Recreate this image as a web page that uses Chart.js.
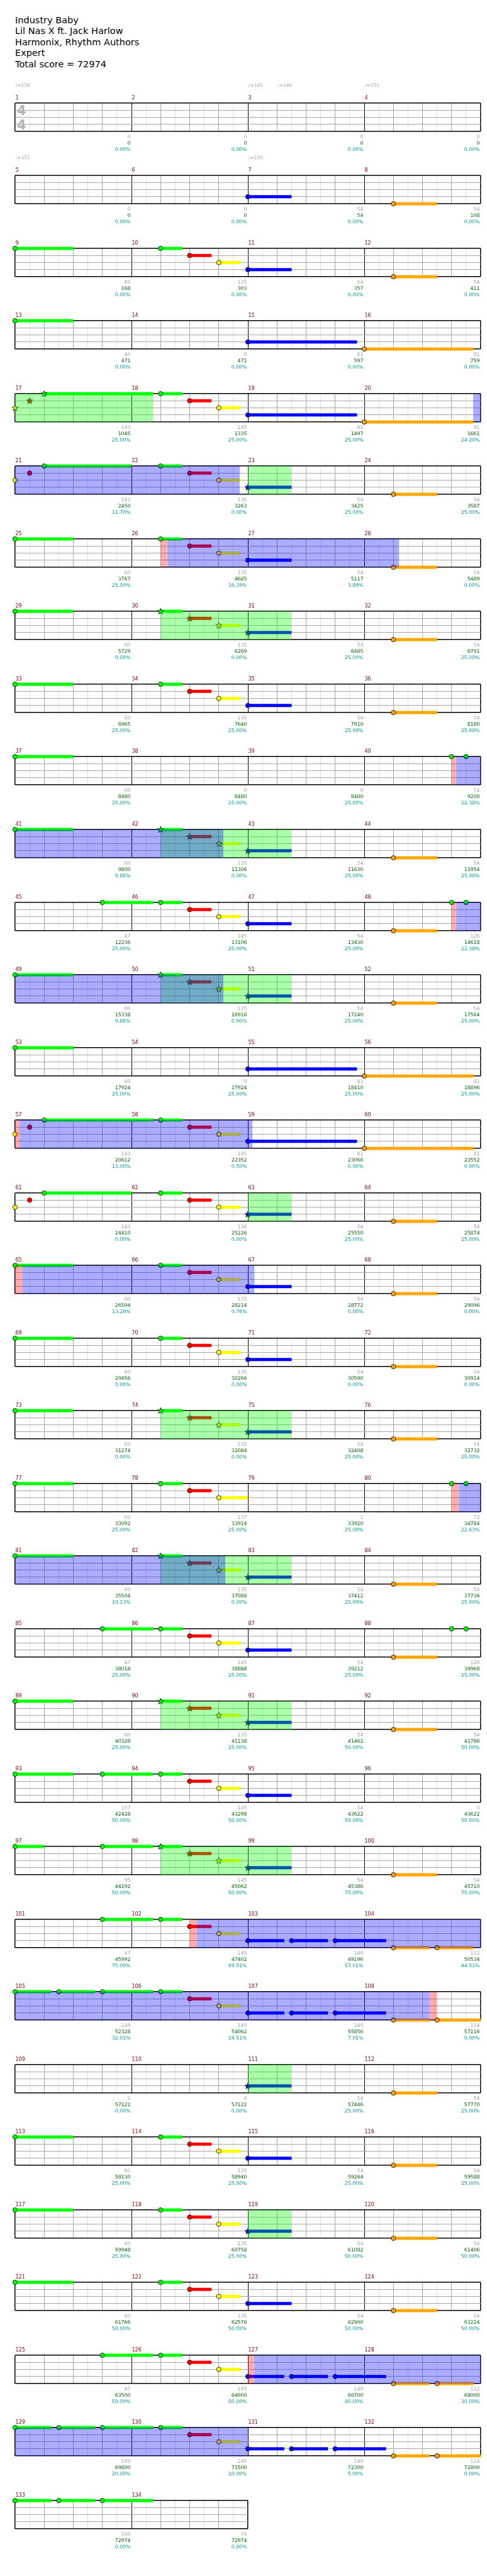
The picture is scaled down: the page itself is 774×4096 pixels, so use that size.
<!DOCTYPE html>
<html><head><meta charset="utf-8">
<script src="https://cdn.jsdelivr.net/npm/chart.js@4.4.1/dist/chart.umd.min.js"></script>
<style>
html,body{margin:0;padding:0;background:#fff;}
#page{position:relative;width:774px;height:4096px;overflow:hidden;font-family:"DejaVu Sans",sans-serif;}
.t{position:absolute;white-space:nowrap;}
canvas{position:absolute;left:0;}
</style></head><body><div id="page"></div>
<script>
// ---------- DATA ----------
const titleLines = ["Industry Baby", "Lil Nas X ft.  Jack Harlow", "Harmonix, Rhythm Authors", "Expert", "Total score = 72974"];

// per-measure score (gray), running total (green), star power meter % (teal)
const measureScore = [
 0,0,0,0, 0,0,54,54, 60,135,54,54, 60,0,81,81,
 143,145,81,81, 143,136,54,54, 60,135,54,54, 60,135,54,54,
 60,135,54,54, 60,0,0,72, 60,135,54,54, 47,145,54,126,
 60,135,54,54, 60,0,81,81, 143,145,81,81, 143,136,54,54,
 60,135,54,54, 60,135,54,54, 60,135,54,54, 60,137,1,72,
 60,135,54,54, 47,145,54,126, 60,135,54,54, 107,145,54,0,
 95,145,54,54, 47,145,149,112, 149,145,149,114, 1,0,54,54,
 60,135,54,54, 60,135,54,54, 60,135,54,54,
 47,145,149,112, 149,145,149,114, 100,74];
const runningScore = [
 0,0,0,0, 0,0,54,108, 168,303,357,411, 471,471,597,759,
 1045,1335,1497,1661, 2450,3263,3425,3587, 3767,4685,5117,5489, 5729,6269,6485,6701,
 6965,7640,7910,8180, 8480,8480,8480,9200, 9800,11306,11630,11954, 12236,13106,13430,14618,
 15338,16916,17240,17564, 17924,17924,18410,18896, 20612,22352,23066,23552, 24410,25226,25550,25874,
 26594,28214,28772,29096, 29456,30266,30590,30914, 31274,32084,32408,32732, 33092,33914,33920,34784,
 35504,37088,37412,37736, 38018,38888,39212,39968, 40328,41138,41462,41786, 42428,43298,43622,43622,
 44192,45062,45386,45710, 45992,47402,49196,50534, 52328,54062,55856,57116, 57122,57122,57446,57770,
 58130,58940,59264,59588, 59948,60758,61082,61406, 61766,62576,62900,63224,
 63500,64900,66700,68000, 69800,71500,72300,72800, 72974,72974];
const spMeter = [
 0,0,0,0, 0,0,0,0, 0,0,0,0, 0,0,0,0,
 25,25,25,24.20, 11.70,0,25,25, 25,16.39,3.89,0, 0,0,25,25,
 25,25,25,25, 25,25,25,22.38, 9.88,0,25,25, 25,25,25,22.38,
 9.88,0,25,25, 25,25,25,25, 13.00,0.50,0,0, 0,0,25,25,
 13.26,0.76,0,0, 0,0,0,0, 0,0,25,25, 25,25,25,22.63,
 10.13,0,25,25, 25,25,25,25, 25,25,50,50, 50,50,50,50,
 50,50,75,75, 75,69.51,57.01,44.51, 32.01,19.51,7.01,0, 0,0,25,25,
 25,25,25,25, 25,25,50,50, 50,50,50,50,
 50,50,40,30, 20,10,5,0, 0,0];

// tempo changes: beat position (from song start) and bpm
const tempoBeat = [0, 8, 9, 12, 16, 24];
const tempoBpm  = [150, 145, 146, 151, 151, 150];

// notes: [start beat, sustain length in beats]
const greenNotes = [[32,2],[37,0.75],[48,2],[65,3.75],[69,0.75],[81,3],[85,0.75],[96,2],[101,0.75],
 [112,2],[117,0.75],[128,2],[133,0.75],[144,2],[159,0],[159.5,0],[160,2],[165,0.75],
 [179,1.75],[181,0.75],[191,0],[191.5,0],[192,2],[197,0.75],[208,2],[225,3.75],[229,0.75],
 [241,3],[245,0.75],[256,2],[261,0.75],[272,2],[277,0.75],[288,2],[293,0.75],
 [304,2],[309,0.75],[319,0],[319.5,0],[320,2],[325,0.75],[339,1.75],[341,0.75],[351,0],[351.5,0],
 [352,2],[357,0.75],[368,2],[371,1.75],[373,0.75],[384,1],[387,1.75],[389,0.75],
 [403,1.75],[405,0.75],[416,1.25],[417.5,1.25],[419,1.75],[421,0.75],
 [448,2],[453,0.75],[464,2],[469,0.75],[480,2],[485,0.75],
 [499,1.75],[501,0.75],[512,1.25],[513.5,1.25],[515,1.75],[517,0.75],[528,1.25],[529.5,1.25],[531,1.75]];
const redNotes = [[38,0.75],[64.5,0],[70,0.75],[80.5,0],[86,0.75],[102,0.75],[118,0.75],[134,0.75],
 [166,0.75],[182,0.75],[198,0.75],[224.5,0],[230,0.75],[240.5,0],[246,0.75],[262,0.75],[278,0.75],
 [294,0.75],[310,0.75],[326,0.75],[342,0.75],[358,0.75],[374,0.75],[390,0.75],[406,0.75],[422,0.75],
 [454,0.75],[470,0.75],[486,0.75],[502,0.75],[518,0.75]];
const yellowNotes = [[39,0.75],[64,0],[71,0.75],[80,0],[87,0.75],[103,0.75],[119,0.75],[135,0.75],
 [167,0.75],[183,0.75],[199,0.75],[224,0],[231,0.75],[240,0],[247,0.75],[263,0.75],[279,0.75],
 [295,0.75],[311,1],[327,0.75],[343,0.75],[359,0.75],[375,0.75],[391,0.75],[407,0.75],[423,0.75],
 [455,0.75],[471,0.75],[487,0.75],[503,0.75],[519,0.75]];
const blueNotes = [[24,1.5],[40,1.5],[56,3.75],[72,3.75],[88,1.5],[104,1.5],[120,1.5],[136,1.5],
 [168,1.5],[184,1.5],[200,1.5],[216,3.75],[232,3.75],[248,1.5],[264,1.5],[280,1.5],[296,1.5],
 [328,1.5],[344,1.5],[360,1.5],[376,1.5],[392,1.5],[408,1.25],[409.5,1.25],[411,1.75],
 [424,1.25],[425.5,1.25],[427,1.75],[440,1.5],[456,1.5],[472,1.5],[488,1.5],
 [504,1.25],[505.5,1.25],[507,1.75],[520,1.25],[521.5,1.25],[523,1.75]];
const orangeNotes = [[29,1.5],[45,1.5],[60,3.75],[76,3.75],[93,1.5],[109,1.5],[125,1.5],[141,1.5],
 [173,1.5],[189,1.5],[205,1.5],[220,3.75],[236,3.75],[253,1.5],[269,1.5],[285,1.5],[301,1.5],
 [333,1.5],[349,1.5],[365,1.5],[397,1.5],[413,1.25],[414.5,1.25],[429,1.25],[430.5,1.5],
 [445,1.5],[461,1.5],[477,1.5],[493,1.5],[509,1.25],[510.5,1.25],[525,1.25],[526.5,1.5]];

// shaded regions [start beat, end beat]
const starPhrases = [[64,68.75],[88,89.5],[117,121.5],[165,169.5],[197,201.5],[248,249.5],[293,297.5],
 [325,329.5],[357,361.5],[389,393.5],[440,441.5],[472,473.5]];
const overdrive = [[79.74,87.72],[101.22,109.2],[159.14,167.16],[191.14,199.16],[224.15,232.16],
 [256.24,264.23],[319.23,327.23],[406.23,430.25],[504.2,520]];
const activation = [[101,101.22],[159,159.14],[191,191.14],[224,224.15],[256,256.24],[319,319.23],
 [406,406.23],[430.25,430.5],[504,504.2]];

// ---------- DRAWING ----------
const S = 0.755, PAD = 10, STAFF_H = 45;
const page = document.getElementById('page');
Chart.defaults.font.family = '"DejaVu Sans", sans-serif';

function label(str, x, y, size, color, align, weight) {
  const d = document.createElement('div');
  d.className = 't';
  d.textContent = str;
  d.style.left = x + 'px';
  d.style.top = y + 'px';
  d.style.fontSize = size + 'px';
  d.style.lineHeight = size + 'px';
  d.style.color = color;
  if (weight) d.style.fontWeight = weight;
  d.style.transform = 'translate(' + (align === 'right' ? '-100%' : '0') + ',-50%)';
  page.appendChild(d);
  return d;
}

titleLines.forEach((t, i) => label(t, 24, 32 + i * 17.4, 14.5, '#000', 'left'));

function starImage(color) {
  const c = document.createElement('canvas');
  c.width = 12; c.height = 12;
  const g = c.getContext('2d');
  g.beginPath();
  for (let i = 0; i < 10; i++) {
    const r = i % 2 ? 2.1 : 5.2;
    const a = -Math.PI / 2 + i * Math.PI / 5;
    const px = 6 + r * Math.cos(a), py = 6.4 + r * Math.sin(a);
    if (i) g.lineTo(px, py); else g.moveTo(px, py);
  }
  g.closePath();
  g.fillStyle = color; g.fill();
  g.lineWidth = 0.8; g.strokeStyle = '#000'; g.stroke();
  return c;
}

const laneDefs = [
  {name: 'green', y: 4, color: '#00ff00', notes: greenNotes},
  {name: 'red', y: 3, color: '#ff0000', notes: redNotes},
  {name: 'yellow', y: 2, color: '#ffff00', notes: yellowNotes},
  {name: 'blue', y: 1, color: '#0000ff', notes: blueNotes},
  {name: 'orange', y: 0, color: '#ffa500', notes: orangeNotes}
];
laneDefs.forEach(L => { L.star = starImage(L.color); });

function inPhrase(b) { return starPhrases.some(([s, e]) => b >= s - 1e-6 && b < e - 1e-6); }

function region(a, b, color, order) {
  return {type: 'line', data: [{x: a, y: 4}, {x: b, y: 4}], borderWidth: 0, pointRadius: 0,
    fill: 'origin', backgroundColor: color, order: order, clip: 0};
}

const totalBeats = measureScore.length * 4;
const nRows = Math.ceil(measureScore.length / 4);

for (let r = 0; r < nRows; r++) {
  const lo = r * 16, hi = Math.min(lo + 16, totalBeats), span = hi - lo;
  const staffTop = Math.round((217 + 153 * r) * S);
  const canvasTop = staffTop - PAD;
  const cv = document.createElement('canvas');
  cv.width = 774; cv.height = STAFF_H + 2 * PAD;
  cv.style.top = canvasTop + 'px';
  page.appendChild(cv);
  const plotW = 740 * span / 16;

  const ds = [];
  const seg = (a, b) => [Math.max(a, lo) - lo, Math.min(b, hi) - lo];
  activation.forEach(([a, b]) => { if (b > lo && a < hi) { const [p, q] = seg(a, b); ds.push(region(p, q, 'rgba(255,0,0,0.33)', 1)); } });
  overdrive.forEach(([a, b]) => { if (b > lo && a < hi) { const [p, q] = seg(a, b); ds.push(region(p, q, 'rgba(0,0,255,0.33)', 2)); } });
  starPhrases.forEach(([a, b]) => { if (b > lo && a < hi) { const [p, q] = seg(a, b); ds.push(region(p, q, 'rgba(0,255,0,0.33)', 3)); } });

  laneDefs.forEach(L => {
    const sus = [], gems = [], styles = [];
    L.notes.forEach(([s, len]) => {
      if (s >= lo && s < hi) {
        gems.push({x: s - lo, y: L.y});
        styles.push(inPhrase(s) ? L.star : 'circle');
        if (len > 0) {
          const e = Math.min(s + len, hi) - lo;
          sus.push({x: s - lo, y: L.y}, {x: e, y: L.y}, {x: e, y: null});
        }
      }
    });
    ds.push({type: 'line', data: sus, borderColor: L.color, borderWidth: 5, borderCapStyle: 'butt',
      pointRadius: 0, fill: false, spanGaps: false, clip: false, order: 6, tension: 0});
    ds.push({type: 'scatter', data: gems, pointStyle: styles, pointRadius: 3.6,
      pointBackgroundColor: L.color, pointBorderColor: '#000', pointBorderWidth: 0.8, clip: false, order: 5});
  });

  const chart = new Chart(cv, {
    type: 'line',
    data: {datasets: ds},
    options: {
      responsive: false, animation: false, events: [],
      layout: {padding: {left: 24, right: 774 - 24 - plotW, top: PAD, bottom: PAD}},
      plugins: {legend: {display: false}, tooltip: {enabled: false}},
      scales: {
        x: {type: 'linear', min: 0, max: span,
          ticks: {display: false, stepSize: 0.5, maxTicksLimit: 200, autoSkip: false},
          border: {display: false},
          grid: {drawTicks: false,
            color: c => { const v = c.tick.value; return (v % 4 === 0) ? '#000' : (Number.isInteger(v) ? '#a6a6a6' : '#e2e2e2'); },
            lineWidth: c => { const v = c.tick.value; return (v === 0 || v === span) ? 1.5 : 1; }}},
        y: {type: 'linear', min: 0, max: 4,
          ticks: {display: false, stepSize: 1},
          border: {display: false},
          grid: {drawTicks: false,
            color: c => (c.tick.value === 0 || c.tick.value === 4) ? '#000' : '#a6a6a6',
            lineWidth: c => (c.tick.value === 0 || c.tick.value === 4) ? 1.5 : 1}}
      }
    }
  });

  const xs = chart.scales.x, ca = chart.chartArea;
  const top = canvasTop + ca.top, bottom = canvasTop + ca.bottom;
  for (let k = 0; k < span / 4; k++) {
    const m = r * 4 + k;
    const x0 = xs.getPixelForValue(4 * k), x1 = xs.getPixelForValue(4 * k + 4);
    label(String(m + 1), x0 + 0.5, top - 8.2, 8, '#8b0000', 'left');
    label(String(measureScore[m]), x1 - 1.5, bottom + 9.1, 7.8, '#a0a0a0', 'right');
    label(String(runningScore[m]), x1 - 1.5, bottom + 19.1, 7.8, '#006400', 'right');
    label(spMeter[m].toFixed(2) + '%', x1 - 1.5, bottom + 28.9, 7.8, '#009999', 'right');
  }
  tempoBeat.forEach((b, i) => {
    if (b >= lo && b < hi) label('\u2669=' + tempoBpm[i], xs.getPixelForValue(b - lo), top - 27.9, 7.5, '#a0a0a0', 'left');
  });
  if (r === 0) {
    label('4', xs.getPixelForValue(0) + 3, top + 12, 21, '#b4b4b4', 'left', 'bold');
    label('4', xs.getPixelForValue(0) + 3, top + 35, 21, '#b4b4b4', 'left', 'bold');
  }
}
</script></body></html>
